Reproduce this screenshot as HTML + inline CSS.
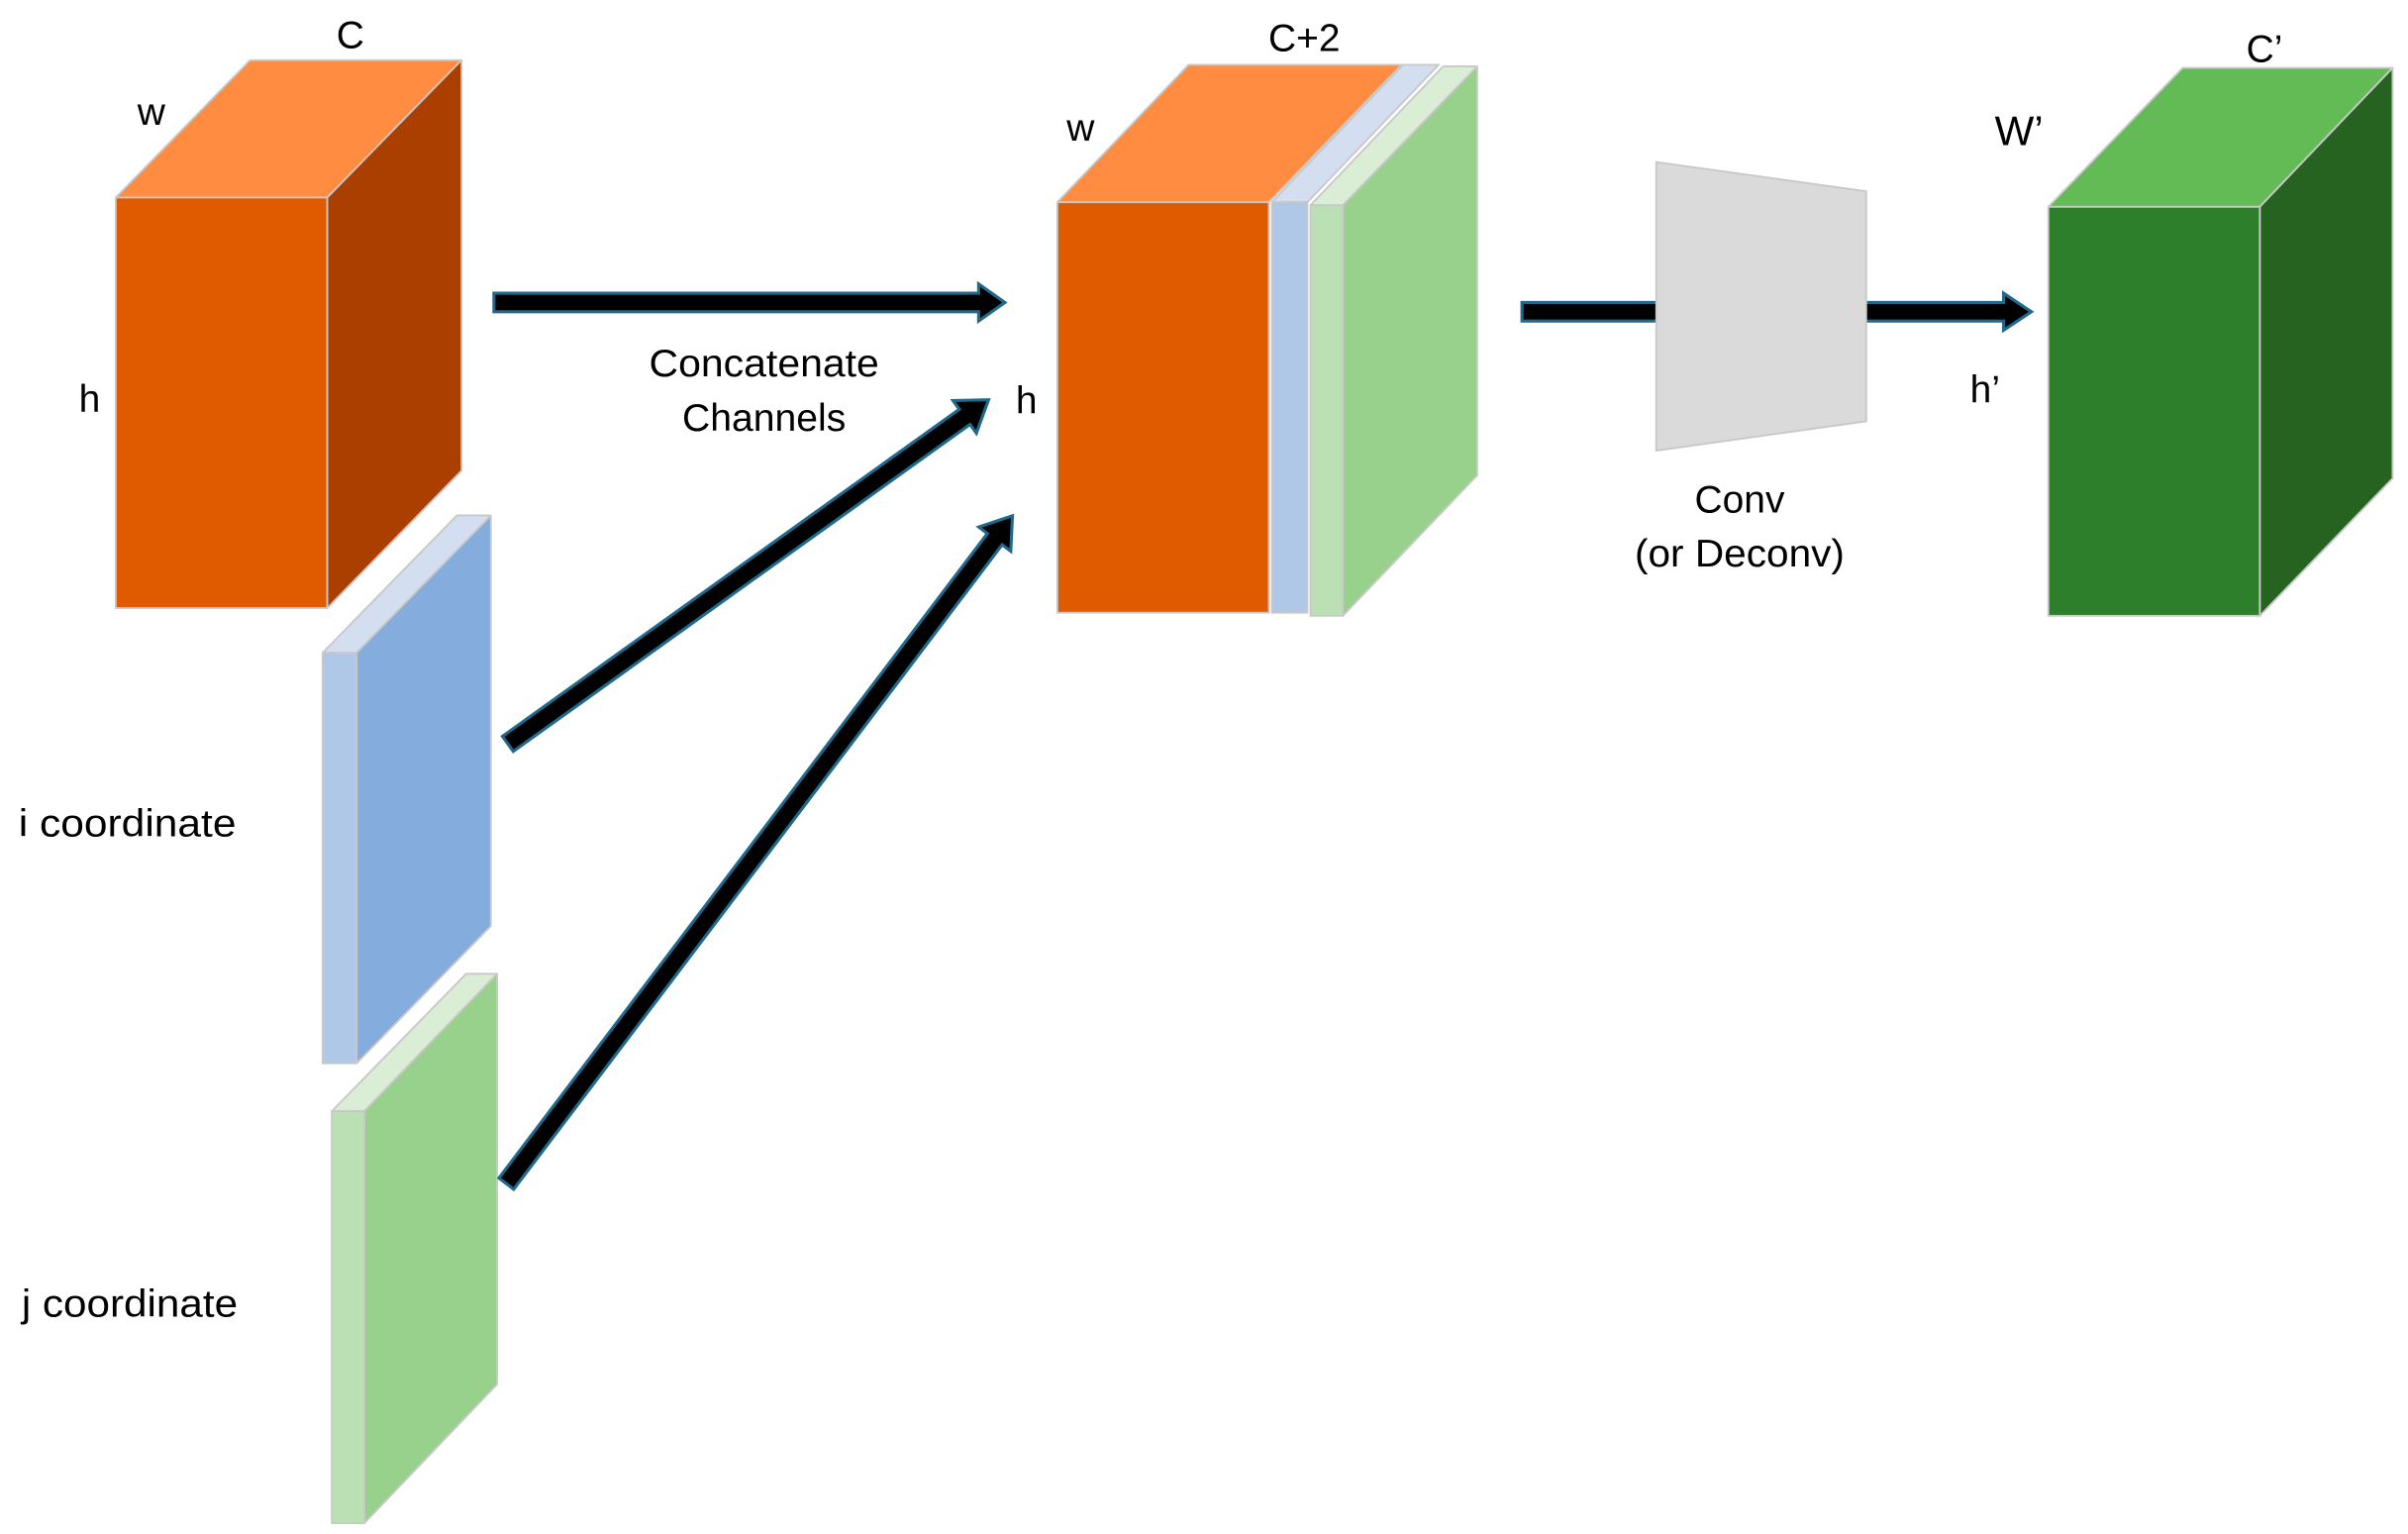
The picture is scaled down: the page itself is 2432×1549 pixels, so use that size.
<!DOCTYPE html>
<html><head><meta charset="utf-8"><style>
html,body{margin:0;padding:0;background:#fff;}
svg{display:block;}
text{font-family:"Liberation Sans",sans-serif;fill:#000;}
</style></head><body>
<svg width="2432" height="1549" viewBox="0 0 1560 994" preserveAspectRatio="none" xmlns="http://www.w3.org/2000/svg">
<g stroke="#c8c8c8" stroke-width="1.2" stroke-linejoin="round">
<!-- cube 1 -->
<polygon points="75,128 162,39 299,39 212,128" fill="#ff8c40"/>
<polygon points="212,128 299,39 299,305 212,394" fill="#ab3f00"/>
<rect x="75" y="128" width="137" height="266" fill="#e05a00"/>
<!-- blue slice -->
<polygon points="209,423 296,334 318,334 231,423" fill="#d3dff0"/>
<polygon points="231,423 318,334 318,600 231,689" fill="#84acdc"/>
<rect x="209" y="423" width="22" height="266" fill="#b0c8e8"/>
<!-- green slice -->
<polygon points="215,720 302,631 322,631 236,720" fill="#daeed5"/>
<polygon points="236,720 322,631 322,897 236,987" fill="#98d18b"/>
<rect x="215" y="720" width="21" height="267" fill="#bbe0b3"/>
<!-- middle stack -->
<polygon points="685,131 770,42 908,42 822,131" fill="#ff8c40"/>
<rect x="685" y="131" width="137" height="266" fill="#e05a00"/>
<polygon points="824,131 909,42 932,42 847,131" fill="#d3dff0"/>
<rect x="824" y="131" width="23" height="266" fill="#b0c8e8"/>
<polygon points="849,133 935,43 957,43 870,133" fill="#daeed5"/>
<polygon points="870,133 957,43 957,308 870,399" fill="#98d18b"/>
<rect x="849" y="133" width="21" height="266" fill="#bbe0b3"/>
<!-- green cube -->
<polygon points="1327,134 1414,44 1550,44 1464,134" fill="#62bb55"/>
<polygon points="1464,134 1550,44 1550,310 1464,399" fill="#266321"/>
<rect x="1327" y="134" width="137" height="265" fill="#2e7f2b"/>
</g>
<!-- arrows -->
<g fill="#000" stroke="#1f6a8c" stroke-width="2" stroke-linejoin="miter">
<path transform="translate(320,196)" d="M0,-6 L314,-6 L314,-12 L331,0 L314,12 L314,6 L0,6 Z"/>
<path transform="translate(329,482) rotate(-35.6)" d="M0,-6 L364,-6 L364,-13 L383,0 L364,13 L364,6 L0,6 Z"/>
<path transform="translate(328,767) rotate(-52.85)" d="M0,-6 L524,-6 L524,-13 L543,0 L524,13 L524,6 L0,6 Z"/>
<path transform="translate(986,202)" d="M0,-6 L312,-6 L312,-12 L330,0 L312,12 L312,6 L0,6 Z"/>
</g>
<polygon points="1073,105 1209,124 1209,273 1073,292" fill="#dadada" stroke="#c8c8c8" stroke-width="1.2"/>
<!-- labels -->
<g font-size="25">
<text x="227" y="31" text-anchor="middle">C</text>
<text x="98" y="81" text-anchor="middle">w</text>
<text x="58" y="267" text-anchor="middle">h</text>
<text x="495" y="244" text-anchor="middle" textLength="149" lengthAdjust="spacingAndGlyphs">Concatenate</text>
<text x="495" y="279" text-anchor="middle" textLength="106" lengthAdjust="spacingAndGlyphs">Channels</text>
<text x="12" y="542" textLength="141" lengthAdjust="spacingAndGlyphs">i coordinate</text>
<text x="14" y="853" textLength="140" lengthAdjust="spacingAndGlyphs">j coordinate</text>
<text x="845" y="33" text-anchor="middle">C+2</text>
<text x="700" y="91" text-anchor="middle">w</text>
<text x="665" y="268" text-anchor="middle">h</text>
<text x="1127" y="332" text-anchor="middle">Conv</text>
<text x="1127" y="367" text-anchor="middle" textLength="136" lengthAdjust="spacingAndGlyphs">(or Deconv)</text>
<text x="1308" y="94" text-anchor="middle" font-size="27">W’</text>
<text x="1286" y="261" text-anchor="middle">h’</text>
<text x="1467" y="40" text-anchor="middle">C’</text>
</g>
</svg>
</body></html>
